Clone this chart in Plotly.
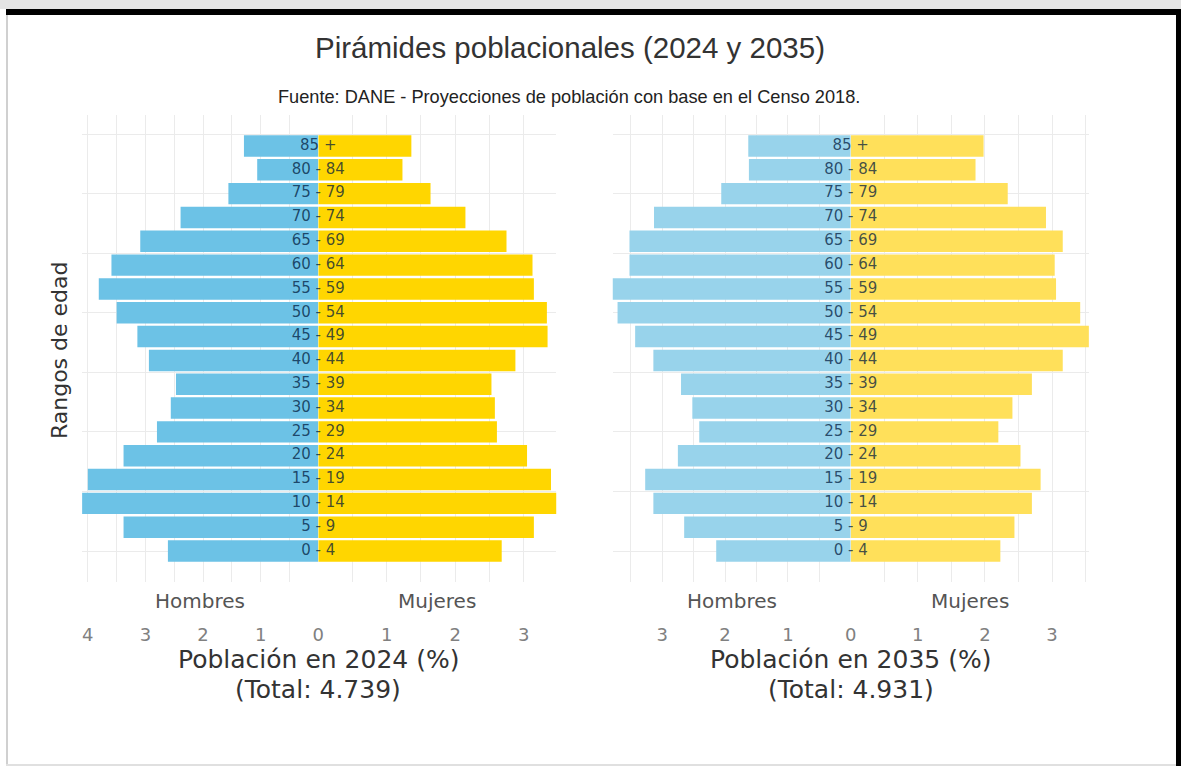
import plotly.graph_objects as go

W = 1180          # width the page is actually laid out at in the 1187 px window
H = 766

age_groups = ["0 - 4", "5 - 9", "10 - 14", "15 - 19", "20 - 24", "25 - 29", "30 - 34",
              "35 - 39", "40 - 44", "45 - 49", "50 - 54", "55 - 59", "60 - 64",
              "65 - 69", "70 - 74", "75 - 79", "80 - 84", "85 +"]

men_2024 = [2.61, 3.38, 4.10, 4.00, 3.38, 2.80, 2.56, 2.47, 2.94, 3.14, 3.50, 3.81,
            3.59, 3.09, 2.39, 1.56, 1.06, 1.29]
women_2024 = [2.68, 3.15, 3.48, 3.40, 3.05, 2.61, 2.58, 2.53, 2.88, 3.35, 3.34, 3.15,
              3.13, 2.75, 2.15, 1.64, 1.23, 1.36]
men_2035 = [2.14, 2.65, 3.14, 3.27, 2.75, 2.41, 2.52, 2.70, 3.14, 3.43, 3.71, 3.79,
            3.52, 3.52, 3.13, 2.06, 1.62, 1.63]
women_2035 = [2.23, 2.44, 2.70, 2.83, 2.53, 2.20, 2.41, 2.70, 3.16, 3.55, 3.42, 3.06,
              3.04, 3.16, 2.91, 2.34, 1.86, 1.98]

total_2024 = "4.739"
total_2035 = "4.931"
men_ticks_2024 = [0, 1, 2, 3, 4]
men_ticks_2035 = [0, 1, 2, 3]
women_ticks = [1, 2, 3]

title = "Pirámides poblacionales (2024 y 2035)"
subtitle = "Fuente: DANE - Proyecciones de población con base en el Censo 2018."

idx = list(range(len(age_groups)))

def px(x):
    return min(x / W, 1.0)

def py(y):
    return 1 - y / H

BLUE_1, YEL_1 = "#6cc2e6", "#ffd600"
BLUE_2, YEL_2 = "#98d3eb", "#ffe05a"
GRID = "#ebebeb"
TICKFONT = dict(family="DejaVu Sans", size=18, color="#808080")

fig = go.Figure()

panels = [
    ("x", "x2", men_2024, women_2024, BLUE_1, YEL_1),
    ("x3", "x4", men_2035, women_2035, BLUE_2, YEL_2),
]
for xm, xw, m, w, cb, cy in panels:
    fig.add_trace(go.Bar(x=m, y=idx, orientation="h", xaxis=xm, yaxis="y",
                         marker=dict(color=cb, line=dict(width=0)), width=0.9,
                         hoverinfo="x", showlegend=False))
    fig.add_trace(go.Bar(x=w, y=idx, orientation="h", xaxis=xw, yaxis="y",
                         marker=dict(color=cy, line=dict(width=0)), width=0.9,
                         hoverinfo="x", showlegend=False))
    fig.add_trace(go.Scatter(x=[0] * len(idx), y=idx, xaxis=xw, yaxis="y", mode="text",
                             text=age_groups, textposition="middle center",
                             cliponaxis=False,
                             textfont=dict(family="DejaVu Sans", size=15,
                                           color="rgba(0,25,60,0.74)"),
                             hoverinfo="skip", showlegend=False))

def xax(domain, rng, tickvals):
    return dict(domain=domain, range=rng, anchor="y", tickmode="array",
                tickvals=tickvals, ticktext=[str(v) for v in tickvals],
                showgrid=True, gridcolor=GRID, gridwidth=1, zeroline=False,
                showline=False, ticks="", tickfont=TICKFONT, ticklabelstandoff=40,
                minor=dict(tick0=0, dtick=0.5, showgrid=True, gridcolor=GRID, gridwidth=1),
                fixedrange=True)

L0, LC, L1 = 82, 318, 556
R0, RC, R1 = 612, 850, 1088
TOP, BOT = 115, 582

fig.update_layout(
    height=H, autosize=True, margin=dict(l=0, r=0, t=0, b=0),
    paper_bgcolor="white", plot_bgcolor="white", barmode="overlay",
    xaxis=xax([px(L0), px(LC)], [max(men_2024), 0], men_ticks_2024),
    xaxis2=xax([px(LC), px(L1)], [0, max(women_2024)], women_ticks),
    xaxis3=xax([px(R0), px(RC)], [max(men_2035), 0], men_ticks_2035),
    xaxis4=xax([px(RC), px(R1)], [0, max(women_2035)], women_ticks),
    yaxis=dict(domain=[py(BOT), py(TOP)], range=[-1.3, 18.3], tickmode="linear",
               tick0=0, dtick=2.5, showticklabels=False, showgrid=True, gridcolor=GRID,
               zeroline=False, showline=False, ticks="", fixedrange=True),
)

ann = []
ann.append(dict(text=title, x=px(570), y=py(47), xref="paper", yref="paper",
                showarrow=False, xanchor="center", yanchor="middle",
                font=dict(family="Liberation Sans", size=29.5, color="#333333")))
ann.append(dict(text=subtitle, x=px(569), y=py(97), xref="paper", yref="paper",
                showarrow=False, xanchor="center", yanchor="middle",
                font=dict(family="Liberation Sans", size=18.2, color="#222222")))
ann.append(dict(text="Rangos de edad", x=px(60), y=py(350), xref="paper", yref="paper",
                showarrow=False, xanchor="center", yanchor="middle", textangle=-90,
                font=dict(family="DejaVu Sans", size=22, color="#333333")))
for x0, xc, x1, year, tot in [(L0, LC, L1, "2024", total_2024), (R0, RC, R1, "2035", total_2035)]:
    ann.append(dict(text="Hombres", x=px((x0 + xc) / 2), y=py(601), xref="paper", yref="paper",
                    showarrow=False, xanchor="center", yanchor="middle",
                    font=dict(family="DejaVu Sans", size=20, color="#555555")))
    ann.append(dict(text="Mujeres", x=px((xc + x1) / 2), y=py(601), xref="paper", yref="paper",
                    showarrow=False, xanchor="center", yanchor="middle",
                    font=dict(family="DejaVu Sans", size=20, color="#555555")))
    ann.append(dict(text=f"Población en {year} (%)", x=px(xc), y=py(659), xref="paper",
                    yref="paper", showarrow=False, xanchor="center", yanchor="middle",
                    font=dict(family="DejaVu Sans", size=25, color="#333333")))
    ann.append(dict(text=f"(Total: {tot})", x=px(xc), y=py(689), xref="paper",
                    yref="paper", showarrow=False, xanchor="center", yanchor="middle",
                    font=dict(family="DejaVu Sans", size=25, color="#333333")))
fig.update_layout(annotations=ann)

def rect(x0, y0, x1, y1, color):
    return dict(type="rect", xref="paper", yref="paper", x0=px(x0), x1=px(x1),
                y0=max(py(y1), 0), y1=py(y0), fillcolor=color, line=dict(width=0),
                layer="above")

fig.update_layout(shapes=[
    rect(0, 0, W, 9, "#e4e4e4"),
    rect(6, 9, W, 15, "#000000"),
    rect(1175, 9, W, H, "#000000"),
    rect(6, 15, 8, H, "#d0d0d0"),
    rect(6, H - 2, 1175, H, "#e0e0e0"),
])

fig.write_html(
    "out.html",
    config={"displayModeBar": False, "responsive": True},
    post_script=("document.body.style.margin='0';document.body.style.overflow='hidden';"
                 "Plotly.Plots.resize(document.getElementById('{plot_id}'));"),
)
